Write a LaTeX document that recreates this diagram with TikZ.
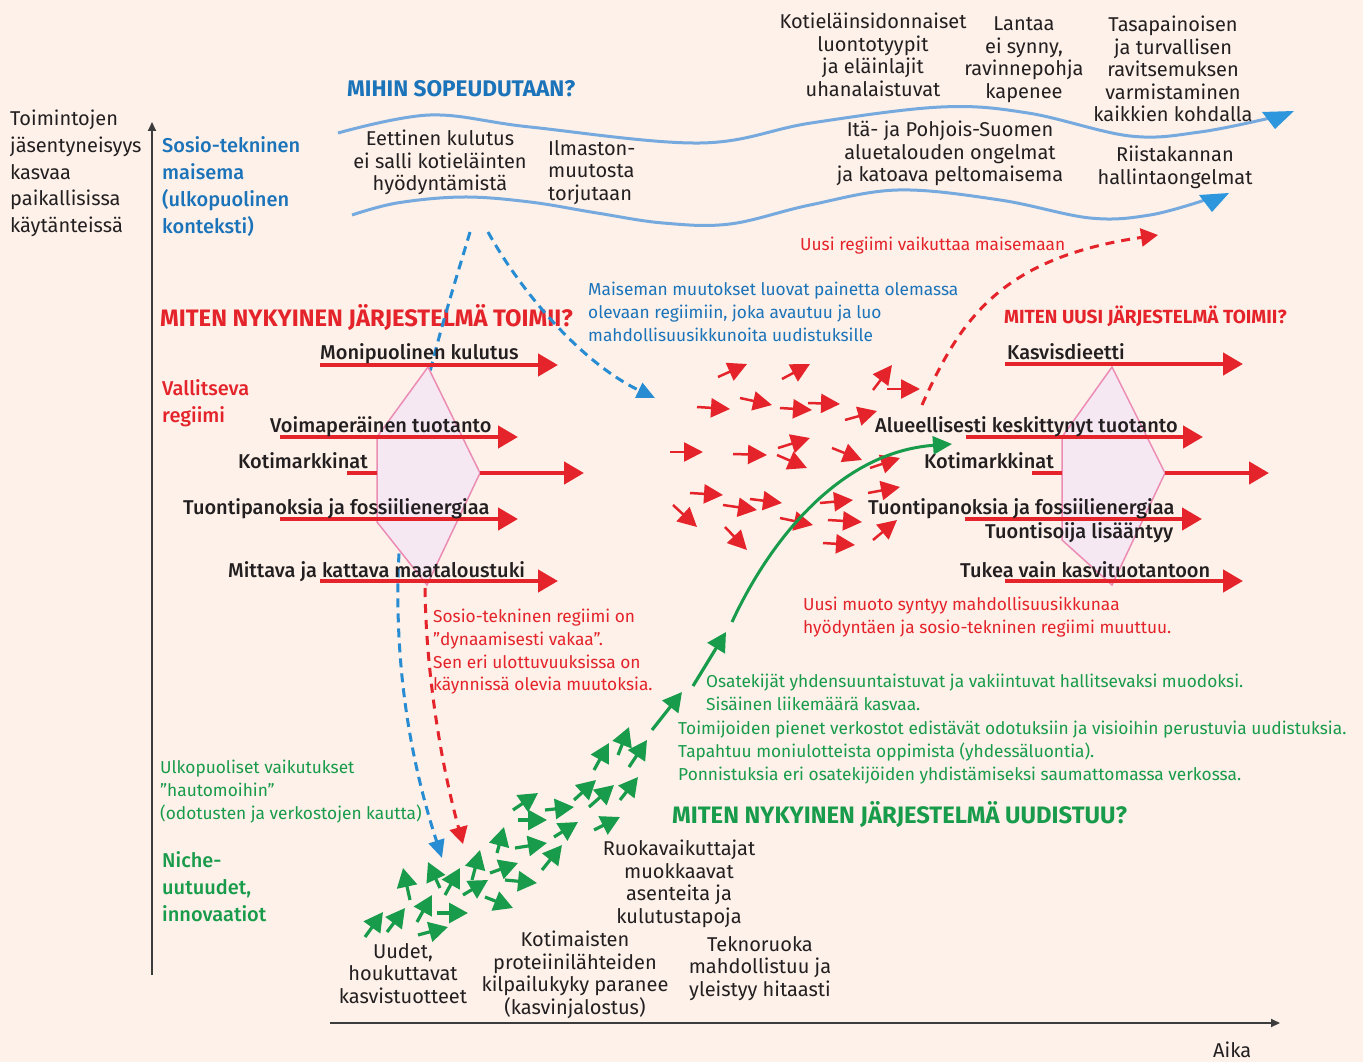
\documentclass[tikz,border=0pt]{standalone}
\usepackage{fontspec}
\setmainfont{Fira Sans}
\newfontfamily\firamed{Fira Sans Medium}
\usetikzlibrary{arrows.meta}
\definecolor{bg}{RGB}{253,241,233}
\definecolor{myred}{RGB}{228,35,42}
\definecolor{myblue}{RGB}{27,115,185}
\definecolor{mygreen}{RGB}{24,155,74}
\definecolor{wave}{RGB}{118,170,222}
\definecolor{tri}{RGB}{45,150,220}
\definecolor{dblue}{RGB}{40,140,210}
\definecolor{hexfill}{RGB}{246,232,242}
\definecolor{hexline}{RGB}{236,140,180}
\definecolor{ink}{RGB}{35,31,32}
\definecolor{axisc}{RGB}{60,60,60}
\begin{document}
\begin{tikzpicture}[x=1pt,y=-1pt,
  lbl/.style={font=\fontsize{20}{22.5}\selectfont, text=ink, inner sep=0pt},
  lblm/.style={font=\firamed\fontsize{20}{22.5}\selectfont, text=ink, inner sep=0pt, anchor=base west},
  sm/.style={font=\fontsize{17.3}{22.7}\selectfont, inner sep=0pt, align=left, anchor=north west},
  hd/.style={font=\bfseries\fontsize{23.8}{25}\selectfont, inner sep=0pt, anchor=base west},
  side/.style={font=\firamed\fontsize{20}{27}\selectfont, inner sep=0pt, align=left, anchor=north west},
  regarrow/.style={draw=myred, line width=4.5pt, -{Triangle[length=20pt,width=22pt]}},
  stub/.style={draw=myred, line width=4.5pt},
  redsmall/.style={draw=myred, line width=2.5pt, -{Triangle[length=19pt,width=19pt]}},
  greensmall/.style={draw=mygreen, line width=3.2pt, -{Triangle[length=19pt,width=20pt]}},
  hexa/.style={draw=hexline, fill=hexfill, line width=1.5pt},
  wavy/.style={draw=wave, line width=3pt},
  bdash/.style={draw=dblue, line width=3pt, dash pattern=on 9pt off 6pt, -{Triangle[length=18pt,width=16pt]}},
  rdash/.style={draw=myred, line width=3pt, dash pattern=on 9pt off 7pt, -{Triangle[length=17pt,width=18pt]}},
  axisarrow/.style={draw=axisc, line width=2pt, -{Triangle[length=9pt,width=8pt]}}
]
\fill[bg] (0,0) rectangle (1363,1062);
\useasboundingbox (0,0) rectangle (1363,1062);

% axes
\coordinate (yo) at (152,975); \coordinate (yt) at (152,122);
\coordinate (xo) at (330,1023); \coordinate (xt) at (1280,1023);
\draw[axisarrow] (yo) -- (yt);
\draw[axisarrow] (xo) -- (xt);

% landscape waves
\draw[wavy] plot[smooth, tension=0.6] coordinates {(338,133) (430,115) (530,127) (700,143) (811,123) (941,107) (1028,113) (1130,136) (1200,132) (1270,118)};
\draw[wavy] plot[smooth, tension=0.6] coordinates {(352,215) (397,203) (463,197) (530,202) (597,213) (663,223) (730,224) (810,205) (898,190) (1000,200) (1090,218) (1150,215) (1205,200)};
\fill[tri] (1262,112) -- (1294,111) -- (1275,129) -- cycle;
\fill[tri] (1199,195) -- (1229,193) -- (1212,212) -- cycle;

% headings
\node[hd, text=myblue, font=\bfseries\fontsize{22.6}{24}\selectfont] (q1) at (347,97) {MIHIN SOPEUDUTAAN?};
\node[hd, text=myred] (q2) at (160,326) {MITEN NYKYINEN JÄRJESTELMÄ TOIMII?};
\node[hd, text=myred, font=\bfseries\fontsize{19}{21}\selectfont] (q3) at (1004,323) {MITEN UUSI JÄRJESTELMÄ TOIMII?};
\node[hd, text=mygreen] (q4) at (672,823) {MITEN NYKYINEN JÄRJESTELMÄ UUDISTUU?};

% blue dashed connectors
\coordinate (bd1s) at (470,232); \coordinate (bd1m) at (398,580); \coordinate (bd1e) at (442,858);
\coordinate (bd2s) at (488,232); \coordinate (bd2e) at (655,398);
\draw[bdash] (bd1s) .. controls (450,300) and (400,450) .. (bd1m) .. controls (396,700) and (420,790) .. (bd1e);
\draw[bdash] (bd2s) .. controls (520,290) and (580,362) .. (bd2e);

% regime hexagons
\draw[hexa] (428,367) -- (377,437) -- (377,522) -- (427,585) -- (480,473) -- cycle;
\draw[hexa] (1112,367) -- (1062,437) -- (1062,540) -- (1112,585) -- (1165,473) -- cycle;

% left regime arrows
\coordinate (a1s) at (320,365); \coordinate (a1e) at (558,365);
\coordinate (a2s) at (280,437); \coordinate (a2e) at (518,437);
\coordinate (a3s) at (347,473); \coordinate (a3m) at (377,473); \coordinate (a3r) at (480,473); \coordinate (a3e) at (584,473);
\coordinate (a4s) at (280,519); \coordinate (a4e) at (518,519);
\coordinate (a5s) at (320,581); \coordinate (a5e) at (558,581);
\draw[regarrow] (a1s) -- (a1e);
\draw[regarrow] (a2s) -- (a2e);
\draw[stub] (a3s) -- (a3m);
\draw[regarrow] (a3r) -- (a3e);
\draw[regarrow] (a4s) -- (a4e);
\draw[regarrow] (a5s) -- (a5e);

% right regime arrows
\coordinate (b1s) at (1005,364); \coordinate (b1e) at (1243,364);
\coordinate (b2s) at (966,437); \coordinate (b2e) at (1203,437);
\coordinate (b3s) at (1032,473); \coordinate (b3m) at (1062,473); \coordinate (b3r) at (1165,473); \coordinate (b3e) at (1269,473);
\coordinate (b4s) at (965,519); \coordinate (b4e) at (1202,519);
\coordinate (b5s) at (1005,581); \coordinate (b5e) at (1243,581);
\draw[regarrow] (b1s) -- (b1e);
\draw[regarrow] (b2s) -- (b2e);
\draw[stub] (b3s) -- (b3m);
\draw[regarrow] (b3r) -- (b3e);
\draw[regarrow] (b4s) -- (b4e);
\draw[regarrow] (b5s) -- (b5e);

% red dashed connectors
\coordinate (rd1s) at (425,588); \coordinate (rd1e) at (463,844);
\draw[rdash] (rd1s) .. controls (426,670) and (440,760) .. (rd1e);
\coordinate (rd2s) at (922,405); \coordinate (rd2e) at (1158,235);
\draw[rdash] (rd2s) .. controls (960,320) and (1000,258) .. (rd2e);

% red small arrows (regime under pressure)
\foreach \a/\b/\c/\d [count=\i] in {718/377/747/364, 782/379/810/364, 873/390/892/365, 887/389/920/389,
  697/407/730/409, 740/398/772/405, 780/408/812/410, 808/403/840/404, 845/420/877/411,
  670/452/703/452, 733/454/767/455, 778/448/810/438, 777/455/807/468, 832/448/862/460, 870/468/900/458,
  690/493/723/495, 723/505/757/510, 750/499/782/503, 673/505/697/527, 725/527/747/550, 780/518/813/525,
  820/503/853/500, 828/520/862/522, 868/493/900/487, 873/540/897/520, 823/543/855/545}{
  \coordinate (rs\i) at (\a,\b); \coordinate (re\i) at (\c,\d);
  \draw[redsmall] (rs\i) -- (re\i);
}

% green small arrows (niche)
\foreach \a/\b/\c/\d [count=\i] in {365/937/383/912, 387/932/405/908, 417/922/432/895, 410/900/403/868,
  440/888/428/862, 445/895/460/868, 418/935/448/927, 437/913/468/913, 463/895/488/880, 472/880/480/850,
  485/897/513/908, 490/873/518/863, 505/880/537/883, 497/853/504/827, 515/848/547/843, 542/870/562/845,
  554/837/578/822, 513/810/538/793, 518/820/547/820, 545/810/574/807, 574/800/596/780, 589/807/614/785,
  620/800/638/777, 594/830/620/817, 594/770/609/743, 618/755/629/727, 629/767/647/740, 652/730/682/692,
  693/686/726/632}{
  \coordinate (gs\i) at (\a,\b); \coordinate (ge\i) at (\c,\d);
  \draw[greensmall] (gs\i) -- (ge\i);
}
% green main curve
\coordinate (gcs) at (732,622); \coordinate (gce) at (952,444);
\draw[draw=mygreen, line width=3pt, -{Triangle[length=19pt,width=18pt]}] (gcs) .. controls (770,540) and (840,452) .. (gce);

% side labels
\node[lbl, align=left, anchor=north west, font=\fontsize{20}{26.7}\selectfont] (ylab) at (10,110) {Toimintojen\\jäsentyneisyys\\kasvaa\\paikallisissa\\käytänteissä};
\node[side, text=myblue] (land) at (162,136) {Sosio-tekninen\\maisema\\(ulkopuolinen\\konteksti)};
\node[side, text=myred] (vall) at (162,379) {Vallitseva\\regiimi};
\node[side, text=mygreen] (nich) at (162,851) {Niche-\\uutuudet,\\innovaatiot};
\node[lbl, anchor=base west] (aika) at (1213,1057) {Aika};

% landscape texts
\node[lbl, align=center, anchor=north] (eet) at (440,130) {Eettinen kulutus\\ei salli kotieläinten\\hyödyntämistä};
\node[lbl, align=left, anchor=north west] (ilm) at (548,140) {Ilmaston-\\muutosta\\torjutaan};
\node[lbl, align=center, anchor=north] (kot) at (873,13) {Kotieläinsidonnaiset\\luontotyypit\\ja eläinlajit\\uhanalaistuvat};
\node[lbl, align=center, anchor=north] (lan) at (1024,17) {Lantaa\\ei synny,\\ravinnepohja\\kapenee};
\node[lbl, align=center, anchor=north] (tas) at (1173,16) {Tasapainoisen\\ja turvallisen\\ravitsemuksen\\varmistaminen\\kaikkien kohdalla};
\node[lbl, align=center, anchor=north] (ita) at (950,121) {Itä- ja Pohjois-Suomen\\aluetalouden ongelmat\\ja katoava peltomaisema};
\node[lbl, align=center, anchor=north] (rii) at (1175,146) {Riistakannan\\hallintaongelmat};

% regime labels
\node[lblm] (l1) at (320,359) {Monipuolinen kulutus};
\node[lblm] (l2) at (270,432) {Voimaperäinen tuotanto};
\node[lblm] (l3) at (238,468) {Kotimarkkinat};
\node[lblm] (l4) at (183,514) {Tuontipanoksia ja fossiilienergiaa};
\node[lblm] (l5) at (228,577) {Mittava ja kattava maataloustuki};
\node[lblm] (r1) at (1007,359) {Kasvisdieetti};
\node[lblm] (r2) at (875,432) {Alueellisesti keskittynyt tuotanto};
\node[lblm] (r3) at (924,468) {Kotimarkkinat};
\node[lblm] (r4) at (868,514) {Tuontipanoksia ja fossiilienergiaa};
\node[lblm] (r5) at (985,538) {Tuontisoija lisääntyy};
\node[lblm] (r6) at (960,577) {Tukea vain kasvituotantoon};

% explanatory texts
\node[sm, text=myblue] (mais) at (588,282) {Maiseman muutokset luovat painetta olemassa\\olevaan regiimiin, joka avautuu ja luo\\mahdollisuusikkunoita uudistuksille};
\node[sm, text=myred, anchor=base west] (uur) at (800,250) {Uusi regiimi vaikuttaa maisemaan};
\node[sm, text=myred] (sos) at (433,609) {Sosio-tekninen regiimi on\\”dynaamisesti vakaa”.\\Sen eri ulottuvuuksissa on\\käynnissä olevia muutoksia.};
\node[sm, text=myred] (uum) at (803,597) {Uusi muoto syntyy mahdollisuusikkunaa\\hyödyntäen ja sosio-tekninen regiimi muuttuu.};
\node[sm, text=mygreen] (osa) at (706,674) {Osatekijät yhdensuuntaistuvat ja vakiintuvat hallitsevaksi muodoksi.\\Sisäinen liikemäärä kasvaa.};
\node[sm, text=mygreen] (toi) at (678,721) {Toimijoiden pienet verkostot edistävät odotuksiin ja visioihin perustuvia uudistuksia.\\Tapahtuu moniulotteista oppimista (yhdessäluontia).\\Ponnistuksia eri osatekijöiden yhdistämiseksi saumattomassa verkossa.};
\node[sm, text=mygreen] (ulk) at (160,760) {Ulkopuoliset vaikutukset\\”hautomoihin”\\(odotusten ja verkostojen kautta)};

% bottom texts
\node[lbl, align=center, anchor=north] (uud) at (403,943) {Uudet,\\houkuttavat\\kasvistuotteet};
\node[lbl, align=center, anchor=north] (kotim) at (575,931) {Kotimaisten\\proteiinilähteiden\\kilpailukyky paranee\\(kasvinjalostus)};
\node[lbl, align=center, anchor=north] (ruo) at (679,840) {Ruokavaikuttajat\\muokkaavat\\asenteita ja\\kulutustapoja};
\node[lbl, align=center, anchor=north] (tek) at (760,936) {Teknoruoka\\mahdollistuu ja\\yleistyy hitaasti};
\end{tikzpicture}
\end{document}
